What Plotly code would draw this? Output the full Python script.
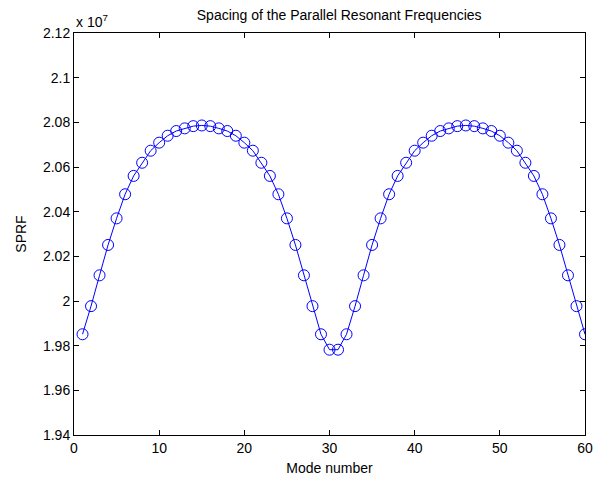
import plotly.graph_objects as go

modes = list(range(1, 61))
sprf_e7 = [
    1.9851, 1.9977, 2.0115, 2.0251, 2.0370, 2.0478, 2.0560, 2.0619, 2.0673, 2.0709,
    2.0740, 2.0761, 2.0773, 2.0783, 2.0786, 2.0783, 2.0773, 2.0761, 2.0740, 2.0709,
    2.0673, 2.0619, 2.0560, 2.0478, 2.0370, 2.0251, 2.0115, 1.9977, 1.9851, 1.9782,
    1.9782, 1.9851, 1.9977, 2.0115, 2.0251, 2.0370, 2.0478, 2.0560, 2.0619, 2.0673,
    2.0709, 2.0740, 2.0761, 2.0773, 2.0783, 2.0786, 2.0783, 2.0773, 2.0761, 2.0740,
    2.0709, 2.0673, 2.0619, 2.0560, 2.0478, 2.0370, 2.0251, 2.0115, 1.9977, 1.9851,
]
x_ticks = [0, 10, 20, 30, 40, 50, 60]
y_ticks = [1.94, 1.96, 1.98, 2.0, 2.02, 2.04, 2.06, 2.08, 2.1, 2.12]
y_ticktext = ["1.94", "1.96", "1.98", "2", "2.02", "2.04", "2.06", "2.08", "2.1", "2.12"]

font = "Liberation Sans, Arial, sans-serif"
fs = 14

fig = go.Figure()
fig.add_trace(go.Scatter(
    x=modes, y=sprf_e7, mode="lines+markers",
    line=dict(color="#0000ff", width=1),
    marker=dict(symbol="circle-open", size=11, color="#0000ff", line=dict(width=1)),
    showlegend=False,
))

axis_common = dict(
    showline=True, linecolor="black", linewidth=1, mirror="ticks",
    ticks="inside", ticklen=5, tickcolor="black", tickwidth=1,
    showgrid=False, zeroline=False, automargin=False,
    tickfont=dict(family=font, size=fs, color="black"),
)
fig.update_xaxes(range=[0, 60], tickvals=x_ticks,
                 title=dict(text="Mode number", font=dict(family=font, size=fs, color="black"), standoff=8),
                 **axis_common)
fig.update_yaxes(range=[1.94, 2.12], tickvals=y_ticks, ticktext=y_ticktext,
                 title=dict(text="SPRF", font=dict(family=font, size=fs, color="black"), standoff=13),
                 **axis_common)

fig.update_layout(
    width=605, height=478,
    margin=dict(l=74, r=20, t=33, b=43),
    paper_bgcolor="white", plot_bgcolor="white",
    title=dict(text="Spacing of the Parallel Resonant Frequencies",
               font=dict(family=font, size=fs, color="black"),
               x=(173 + 455) / 2 / 605, xref="paper", xanchor="center", y=1 - 15 / 478, yanchor="middle"),
    annotations=[dict(text="x 10<sup>7</sup>", xref="paper", yref="paper",
                      x=0, y=1, xanchor="left", yanchor="bottom", yshift=1,
                      showarrow=False, font=dict(family=font, size=fs, color="black"))],
)

fig.write_html("out.html")
